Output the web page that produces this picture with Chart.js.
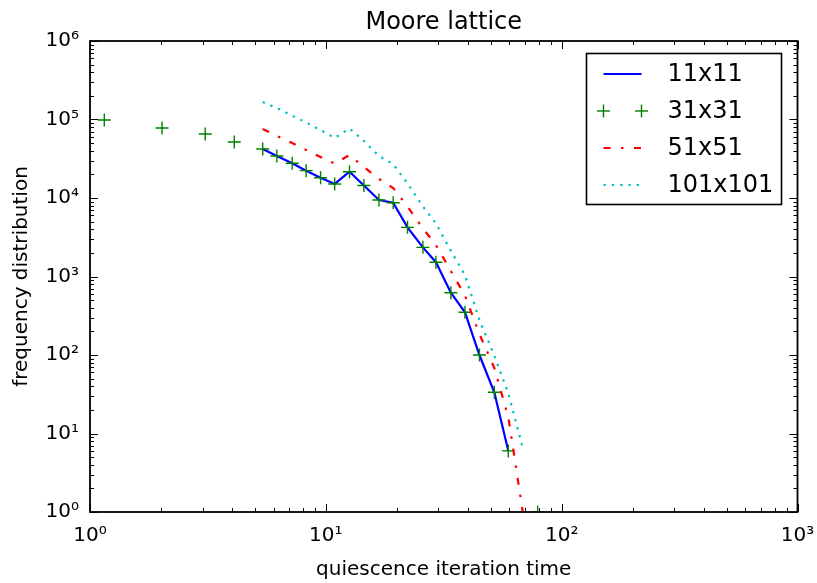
<!DOCTYPE html>
<html><head><meta charset="utf-8">
<script src="https://cdn.jsdelivr.net/npm/chart.js@4.4.0/dist/chart.umd.min.js"></script>
<style>html,body{margin:0;padding:0;background:#fff;}canvas{display:block;}</style>
</head><body>
<canvas id="c" width="817" height="583"></canvas>
<script>
// ---- data ----
const chartTitle = 'Moore lattice';
const xTitle = 'quiescence iteration time';
const yTitle = 'frequency distribution';
const seriesNames = ['11x11', '31x31', '51x51', '101x101'];

const x11 = [5.4, 6.2, 7.2, 8.25, 9.5, 10.9, 12.6, 14.5, 16.8, 19.3, 22.2, 25.8, 29.3, 33.9, 38.9, 44.8, 51.8, 59.4];
const y11 = [42100, 34300, 27700, 22300, 18100, 15100, 21600, 14400, 9440, 8710, 4230, 2350, 1520, 622, 350, 100, 33.5, 6.0];

const x31 = [1.15, 2.02, 3.08, 4.09, 5.4, 6.2, 7.2, 8.25, 9.5, 10.9, 12.6, 14.5, 16.8, 19.3, 22.2, 25.8, 29.3, 33.9, 38.9, 44.8, 51.8, 59.4, 79.1];
const y31 = [98600, 78000, 65300, 51600, 42100, 34300, 27700, 22300, 18100, 15100, 21600, 14400, 9440, 8710, 4230, 2350, 1520, 622, 350, 100, 33.5, 6.0, 1];

const x51 = [5.4, 6.2, 7.2, 8.25, 9.5, 10.9, 12.6, 14.5, 16.8, 19.3, 22.2, 25.8, 29.3, 33.9, 38.9, 44.8, 51.8, 59.4, 68.4];
const y51 = [75700, 61600, 50200, 40900, 33300, 27500, 35300, 24800, 17500, 13400, 7800, 4090, 2520, 1175, 573, 185, 68.3, 16.2, 1];

const x101 = [5.4, 6.2, 7.2, 8.25, 9.5, 10.9, 12.6, 14.5, 16.8, 19.3, 22.2, 25.8, 29.3, 33.9, 38.9, 44.8, 51.8, 59.4, 68.4];
const y101 = [167000, 140000, 112000, 91600, 73400, 58100, 76800, 53200, 34300, 27100, 15300, 7800, 4730, 2120, 1040, 279, 98, 32.5, 6.5];

const xTickLabels = ['10\u2070', '10\u00B9', '10\u00B2', '10\u00B3'];
const yTickLabels = ['10\u2070', '10\u00B9', '10\u00B2', '10\u00B3', '10\u2074', '10\u2075', '10\u2076'];

// ---- chart ----
const pts = (xs, ys) => xs.map((x, i) => ({x: x, y: ys[i]}));
const FONT = '"DejaVu Sans", "Liberation Sans", sans-serif';
Chart.defaults.font.family = FONT;
Chart.defaults.color = '#000';

function isDecade(v) { const l = Math.log10(v); return Math.abs(l - Math.round(l)) < 1e-9; }
function logTicks(scale) {
  const t = [];
  const e0 = Math.round(Math.log10(scale.min)), e1 = Math.round(Math.log10(scale.max));
  for (let e = e0; e <= e1; e++) {
    for (let m = 1; m <= 9; m++) {
      const v = m * Math.pow(10, e);
      if (v > scale.max * 1.0000001) break;
      t.push({value: v, major: m === 1});
    }
  }
  scale.ticks = t;
}

const decor = {
  id: 'decor',
  afterDraw(chart) {
    const ctx = chart.ctx, a = chart.chartArea, xs = chart.scales.x, ys = chart.scales.y;
    ctx.save();
    ctx.strokeStyle = '#000';
    ctx.lineWidth = 1;
    const seg = (x1, y1, x2, y2) => { ctx.beginPath(); ctx.moveTo(x1, y1); ctx.lineTo(x2, y2); ctx.stroke(); };
    xs.ticks.forEach(t => {
      const p = Math.round(xs.getPixelForValue(t.value)) + 0.5;
      const L = isDecade(t.value) ? 8 : 4;
      seg(p, a.bottom, p, a.bottom - L);
      seg(p, a.top, p, a.top + L);
    });
    ys.ticks.forEach(t => {
      const p = Math.round(ys.getPixelForValue(t.value)) + 0.5;
      const L = isDecade(t.value) ? 8 : 4;
      seg(a.left, p, a.left + L, p);
      seg(a.right, p, a.right - L, p);
    });
    ctx.lineWidth = 1.8;
    ctx.strokeRect(a.left, a.top, a.right - a.left, a.bottom - a.top);

    // title
    ctx.fillStyle = '#000';
    ctx.font = '24px ' + FONT;
    ctx.textAlign = 'center';
    ctx.textBaseline = 'alphabetic';
    ctx.fillText(chartTitle, (a.left + a.right) / 2, 28.5);

    // legend
    const bw = 195, bh = 151;
    const bx = a.right - 16 - bw, by = a.top + 12.5;
    ctx.fillStyle = '#fff';
    ctx.fillRect(bx, by, bw, bh);
    ctx.lineWidth = 1.6;
    ctx.strokeStyle = '#000';
    ctx.strokeRect(bx, by, bw, bh);
    chart.data.datasets.forEach((ds, i) => {
      const ry = by + 20.5 + 37 * i;
      const x1 = bx + 17, x2 = bx + 55;
      if (ds.showLine === false) {
        ctx.strokeStyle = ds.pointBorderColor;
        ctx.lineWidth = ds.pointBorderWidth;
        ctx.setLineDash([]);
        [x1, x2].forEach(cx => {
          seg(cx - ds.pointRadius, ry, cx + ds.pointRadius, ry);
          seg(cx, ry - ds.pointRadius, cx, ry + ds.pointRadius);
        });
      } else {
        ctx.strokeStyle = ds.borderColor;
        ctx.lineWidth = ds.borderWidth;
        ctx.setLineDash(ds.legendDash || []);
        seg(x1, ry, x2, ry);
        ctx.setLineDash([]);
      }
      ctx.fillStyle = '#000';
      ctx.font = '24px ' + FONT;
      ctx.textAlign = 'left';
      ctx.textBaseline = 'middle';
      ctx.fillText(ds.label, bx + 81, ry + 1);
    });
    ctx.restore();
  }
};

new Chart(document.getElementById('c'), {
  type: 'line',
  data: {
    datasets: [
      {label: seriesNames[0], data: pts(x11, y11), borderColor: '#0000ff', borderWidth: 2.2,
       pointRadius: 0, tension: 0, fill: false, clip: 0, order: 4},
      {label: seriesNames[1], data: pts(x31, y31), showLine: false, pointStyle: 'cross',
       pointRadius: 6.5, pointBorderColor: '#008000', pointBorderWidth: 1.4, borderColor: '#008000',
       backgroundColor: '#008000', clip: 0, order: 3},
      {label: seriesNames[2], data: pts(x51, y51), borderColor: '#ff0000', borderWidth: 2.2,
       borderDash: [7, 10, 2.5, 10], legendDash: [7, 10.5, 2.5, 10.5],
       pointRadius: 0, tension: 0, fill: false, clip: 0, order: 2},
      {label: seriesNames[3], data: pts(x101, y101), borderColor: '#00bfbf', borderWidth: 2.2,
       borderDash: [2.3, 6], legendDash: [2.3, 6],
       pointRadius: 0, tension: 0, fill: false, clip: 0, order: 1}
    ]
  },
  options: {
    responsive: false,
    animation: false,
    devicePixelRatio: 1,
    events: [],
    layout: {padding: {top: 41, right: 19.5, left: 0, bottom: 0}},
    plugins: {legend: {display: false}, title: {display: false}, tooltip: {enabled: false}},
    scales: {
      x: {
        type: 'logarithmic', min: 1, max: 1000, position: 'bottom',
        grid: {display: false, drawTicks: false}, border: {display: false},
        afterBuildTicks: logTicks,
        afterFit: s => { s.height = 71; s.paddingLeft = 0; s.paddingRight = 0; },
        ticks: {
          autoSkip: false, maxRotation: 0, minRotation: 0, padding: 12,
          font: {size: 20}, color: '#000',
          callback: v => isDecade(v) ? xTickLabels[Math.round(Math.log10(v))] : ''
        },
        title: {display: true, text: xTitle, font: {size: 20}, color: '#000', padding: {top: 0, bottom: 1}}
      },
      y: {
        type: 'logarithmic', min: 1, max: 1000000, position: 'left',
        grid: {display: false, drawTicks: false}, border: {display: false},
        afterBuildTicks: logTicks,
        afterFit: s => { s.width = 90; s.paddingTop = 0; s.paddingBottom = 0; },
        ticks: {
          autoSkip: false, padding: 11,
          font: {size: 20}, color: '#000',
          callback: v => isDecade(v) ? yTickLabels[Math.round(Math.log10(v))] : ''
        },
        title: {display: true, text: yTitle, font: {size: 20}, color: '#000', padding: {top: 10, bottom: 0}}
      }
    }
  },
  plugins: [decor]
});
</script>
</body></html>
